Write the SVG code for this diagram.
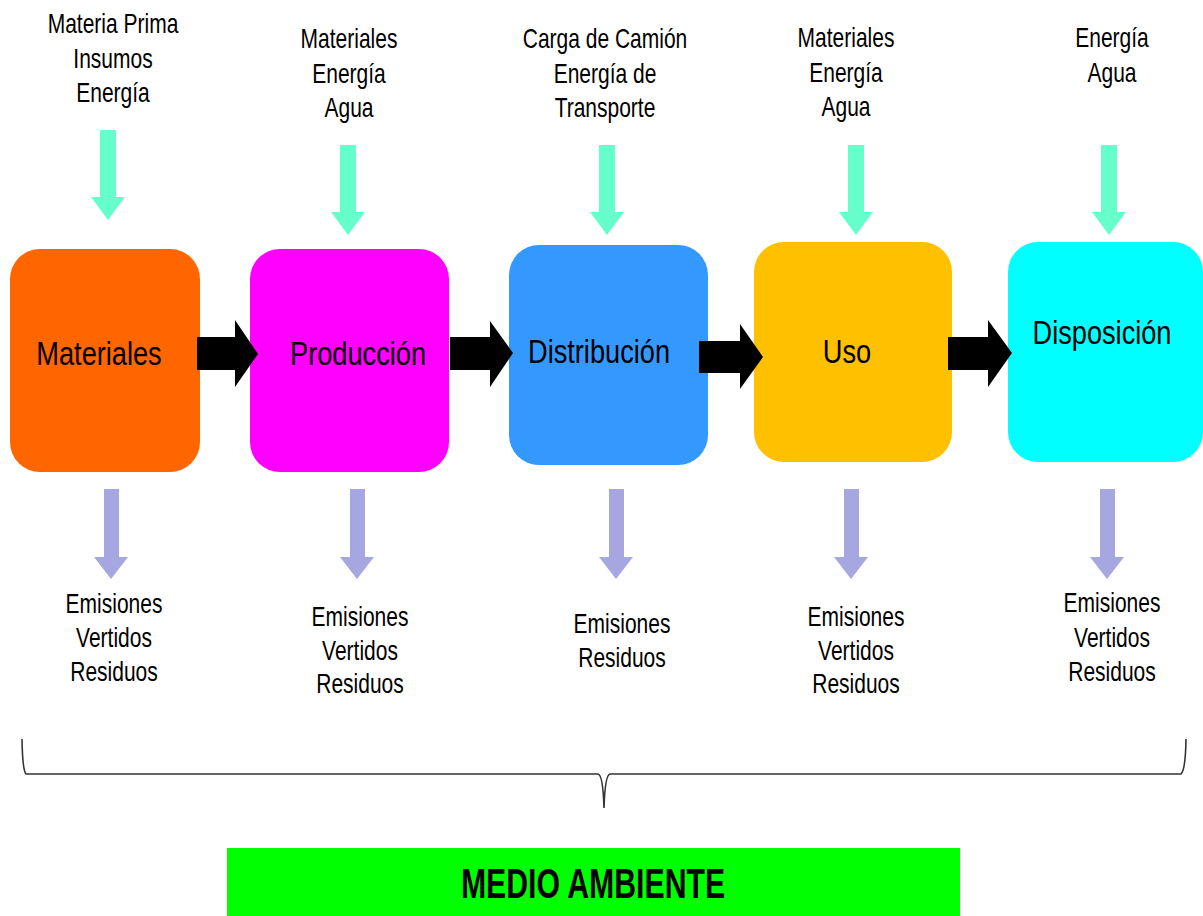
<svg xmlns="http://www.w3.org/2000/svg" width="1203" height="916" viewBox="0 0 1203 916">
<style>
.side{font-family:"Liberation Sans",Arial,sans-serif;font-size:28px;fill:#000;text-anchor:middle}
.lbl{font-family:"Liberation Sans",Arial,sans-serif;font-size:34px;fill:#000;text-anchor:middle}
.env{font-family:"Liberation Sans",Arial,sans-serif;font-size:42px;font-weight:bold;fill:#000;text-anchor:middle}
.in{fill:#66FFCC}
.out{fill:#A6A6E0}
.flow{fill:#000}
.brace{fill:none;stroke:#333;stroke-width:1.6}
</style>
<rect width="1203" height="916" fill="#fff"/>

<g id="inputs">
<g id="in-materiales">
<text class="side" transform="translate(113,33) scale(0.75,1)"><tspan x="0" y="0">Materia Prima</tspan><tspan x="0" y="35">Insumos</tspan><tspan x="0" y="69">Energía</tspan></text>
<polygon class="in" points="100,130 116,130 116,197 125,197 108,220 91,197 100,197"/>
</g>
<g id="in-produccion">
<text class="side" transform="translate(349,48) scale(0.75,1)"><tspan x="0" y="0">Materiales</tspan><tspan x="0" y="35">Energía</tspan><tspan x="0" y="69">Agua</tspan></text>
<polygon class="in" points="340,145 356,145 356,212 365,212 348,235 331,212 340,212"/>
</g>
<g id="in-distribucion">
<text class="side" transform="translate(605,48) scale(0.75,1)"><tspan x="0" y="0">Carga de Camión</tspan><tspan x="0" y="35">Energía de</tspan><tspan x="0" y="69">Transporte</tspan></text>
<polygon class="in" points="599,145 615,145 615,212 624,212 607,235 590,212 599,212"/>
</g>
<g id="in-uso">
<text class="side" transform="translate(846,47) scale(0.75,1)"><tspan x="0" y="0">Materiales</tspan><tspan x="0" y="35">Energía</tspan><tspan x="0" y="69">Agua</tspan></text>
<polygon class="in" points="848,145 864,145 864,212 873,212 856,235 839,212 848,212"/>
</g>
<g id="in-disposicion">
<text class="side" transform="translate(1112,47) scale(0.75,1)"><tspan x="0" y="0">Energía</tspan><tspan x="0" y="35">Agua</tspan></text>
<polygon class="in" points="1101,145 1117,145 1117,212 1126,212 1109,235 1092,212 1101,212"/>
</g>
</g>

<g id="node-materiales">
<rect x="10" y="249" width="190" height="223" rx="30" ry="30" fill="#FF6600"/>
<text class="lbl" transform="translate(99,365) scale(0.8,1)">Materiales</text>
</g>
<g id="node-produccion">
<rect x="250" y="249" width="199" height="223" rx="30" ry="30" fill="#FF00FF"/>
<text class="lbl" transform="translate(358,365) scale(0.8,1)">Producción</text>
</g>
<g id="node-distribucion">
<rect x="509" y="245" width="199" height="220" rx="30" ry="30" fill="#3399FF"/>
<text class="lbl" transform="translate(599,363) scale(0.8,1)">Distribución</text>
</g>
<g id="node-uso">
<rect x="754" y="242" width="198" height="220" rx="30" ry="30" fill="#FFC000"/>
<text class="lbl" transform="translate(847,363) scale(0.8,1)">Uso</text>
</g>
<g id="node-disposicion">
<rect x="1008" y="242" width="195" height="220" rx="30" ry="30" fill="#00FFFF"/>
<text class="lbl" transform="translate(1102,344) scale(0.8,1)">Disposición</text>
</g>

<g id="connectors">
<polygon class="flow" points="197,337 235,337 235,320 258,354 235,387 235,370 197,370"/>
<polygon class="flow" points="450,337 490,337 490,321 513,353 490,387 490,370 450,370"/>
<polygon class="flow" points="699,341 740,341 740,324 763,357 740,389 740,373 699,373"/>
<polygon class="flow" points="948,337 988,337 988,320 1012,353 988,387 988,370 948,370"/>
</g>

<g id="outputs">
<g id="out-materiales">
<polygon class="out" points="104,489 119,489 119,557 128,557 111,579 94,557 104,557"/>
<text class="side" transform="translate(114,613) scale(0.75,1)"><tspan x="0" y="0">Emisiones</tspan><tspan x="0" y="34">Vertidos</tspan><tspan x="0" y="68">Residuos</tspan></text>
</g>
<g id="out-produccion">
<polygon class="out" points="350,489 365,489 365,557 374,557 357,579 340,557 350,557"/>
<text class="side" transform="translate(360,626) scale(0.75,1)"><tspan x="0" y="0">Emisiones</tspan><tspan x="0" y="34">Vertidos</tspan><tspan x="0" y="67">Residuos</tspan></text>
</g>
<g id="out-distribucion">
<polygon class="out" points="609,489 624,489 624,557 633,557 616,579 599,557 609,557"/>
<text class="side" transform="translate(622,633) scale(0.75,1)"><tspan x="0" y="0">Emisiones</tspan><tspan x="0" y="34">Residuos</tspan></text>
</g>
<g id="out-uso">
<polygon class="out" points="844,489 859,489 859,557 868,557 851,579 834,557 844,557"/>
<text class="side" transform="translate(856,626) scale(0.75,1)"><tspan x="0" y="0">Emisiones</tspan><tspan x="0" y="34">Vertidos</tspan><tspan x="0" y="67">Residuos</tspan></text>
</g>
<g id="out-disposicion">
<polygon class="out" points="1100,489 1115,489 1115,557 1124,557 1107,579 1090,557 1100,557"/>
<text class="side" transform="translate(1112,612) scale(0.75,1)"><tspan x="0" y="0">Emisiones</tspan><tspan x="0" y="35">Vertidos</tspan><tspan x="0" y="69">Residuos</tspan></text>
</g>
</g>

<g id="brace">
<path class="brace" d="M22,739 Q22.5,770 26,774 L598,774 Q603,775 604,808 Q605,775 610,774 L1181,774 Q1185.5,770 1186,739"/>
</g>

<g id="node-medio-ambiente">
<rect x="227" y="848" width="733" height="68" fill="#00FF00"/>
<text class="env" transform="translate(593,898) scale(0.72,1)">MEDIO AMBIENTE</text>
</g>
</svg>
